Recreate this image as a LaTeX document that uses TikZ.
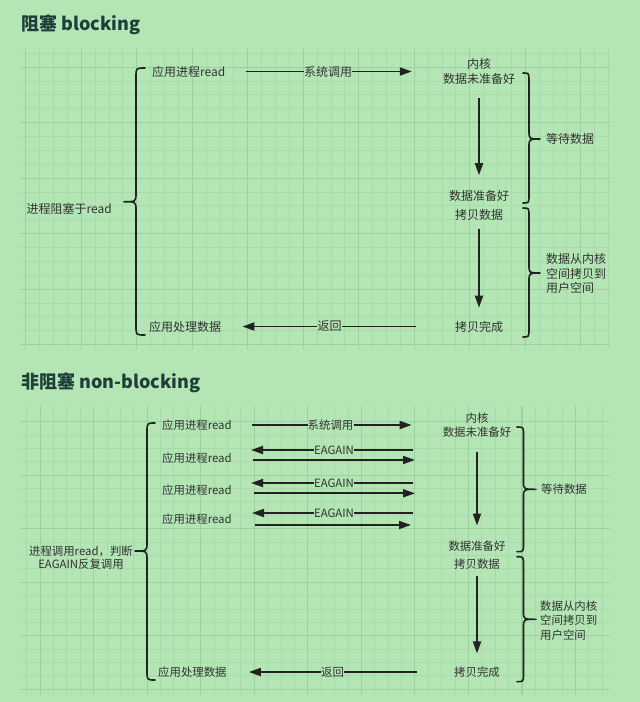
\documentclass[tikz,border=0pt]{standalone}
\usepackage{fontspec}
\setmainfont{Noto Sans CJK SC}
\usetikzlibrary{arrows.meta}
\definecolor{bg}{RGB}{179,229,181}
\definecolor{gminor}{RGB}{168,218,170}
\definecolor{gmajor}{RGB}{157,207,160}
\definecolor{ink}{RGB}{34,34,34}
\definecolor{txtc}{RGB}{51,51,51}
\definecolor{ttl}{RGB}{30,62,56}
\begin{document}
\begin{tikzpicture}[x=1pt,y=-1pt,
  txt/.style={inner sep=0pt, text=txtc, font=\fontsize{12}{15}\selectfont},
  txtb/.style={inner sep=0pt, text=txtc, font=\fontsize{11.4}{14.5}\selectfont},
  ttlstyle/.style={inner sep=0pt, text=ttl, anchor=west, font=\fontsize{18}{20}\selectfont\bfseries},
  ln/.style={draw=ink, line width=1.8pt},
  arr/.style={ln, -{Triangle[length=12pt,width=8pt]}},
  brc/.style={draw=ink, line width=1.6pt, line join=round, line cap=round},
  gmin/.style={draw=gminor, line width=0.9pt},
  gmaj/.style={draw=gmajor, line width=1.1pt}]
\fill[bg] (0,0) rectangle (640,702);
\useasboundingbox (0,0) rectangle (640,702);
% ---------- top grid ----------
\foreach \k in {0,...,42} {\draw[gmin] ({25.8+13.875*\k},48) -- ({25.8+13.875*\k},349);}
\foreach \k in {0,...,21} {\draw[gmin] (20,{53.3+13.875*\k}) -- (610,{53.3+13.875*\k});}
\foreach \k in {0,4,...,40} {\draw[gmaj] ({25.8+13.875*\k},48) -- ({25.8+13.875*\k},349);}
\foreach \k in {1,5,...,21} {\draw[gmaj] (20,{53.3+13.875*\k}) -- (610,{53.3+13.875*\k});}
% ---------- bottom grid ----------
\foreach \k in {0,...,43} {\draw[gmin] ({26.7+13.386*\k},406) -- ({26.7+13.386*\k},695);}
\foreach \k in {0,...,20} {\draw[gmin] (20,{689.3-13.386*\k}) -- (610,{689.3-13.386*\k});}
\foreach \k in {1,5,...,41} {\draw[gmaj] ({26.7+13.386*\k},406) -- ({26.7+13.386*\k},695);}
\foreach \k in {0,4,...,20} {\draw[gmaj] (20,{689.3-13.386*\k}) -- (610,{689.3-13.386*\k});}

% ================= TOP: blocking =================
\node[ttlstyle] (t1) at (21,25) {阻塞 blocking};
\node[txt, anchor=west] (read1) at (152,71.5) {应用进程read};
\node[txt] (sys1) at (328,71.5) {系统调用};
\node[txt, align=center] (kern1) at (479,71.5) {内核\\数据未准备好};
\node[txt] (ready1) at (479,196) {数据准备好};
\node[txt] (copy1) at (479,215) {拷贝数据};
\node[txt] (done1) at (479,326.5) {拷贝完成};
\node[txt] (ret1) at (329.5,326.5) {返回};
\node[txt, anchor=west] (proc1) at (149,326.5) {应用处理数据};
\node[txt, anchor=east] (blk1) at (112,209) {进程阻塞于read};
\node[txt, anchor=west] (wait1) at (546,139) {等待数据};
\node[txt, anchor=west, align=left, font=\fontsize{12}{14.5}\selectfont] (move1) at (546,273.5) {数据从内核\\空间拷贝到\\用户空间};

\draw[ln, shorten <=20pt] (read1) -- (sys1);
\draw[arr, shorten >=31pt] (sys1) -- (kern1);
\draw[arr, shorten <=13pt, shorten >=15pt] (kern1) -- (ready1);
\draw[arr, shorten <=8pt, shorten >=13pt] (copy1) -- (done1);
\draw[ln, shorten <=39pt] (done1) -- (ret1);
\draw[arr, shorten >=21pt] (ret1) -- (proc1);

% braces top
\draw[brc] (145,68) .. controls (136,68) .. (136,77) -- (136,192.7)
  .. controls (136,201.7) .. (124,201.7) .. controls (136,201.7) .. (136,210.7)
  -- (136,326) .. controls (136,335) .. (145,335);
\draw[brc] (523,73) .. controls (529,73) .. (529,81) -- (529,131)
  .. controls (529,139) .. (540,139) .. controls (529,139) .. (529,147)
  -- (529,195) .. controls (529,203) .. (523,203);
\draw[brc] (523,208) .. controls (529,208) .. (529,216) -- (529,265)
  .. controls (529,273) .. (540,273) .. controls (529,273) .. (529,281)
  -- (529,329) .. controls (529,337) .. (523,337);

% ================= BOTTOM: non-blocking =================
\node[ttlstyle] (t2) at (21,383) {非阻塞 non-blocking};
\node[txtb, anchor=west] (r1) at (162,425) {应用进程read};
\node[txtb, anchor=west] (r2) at (162,458) {应用进程read};
\node[txtb, anchor=west] (r3) at (162,490) {应用进程read};
\node[txtb, anchor=west] (r4) at (162,519) {应用进程read};
\node[txtb] (sys2) at (330.5,425) {系统调用};
\node[txtb, align=center] (kern2) at (477,425) {内核\\数据未准备好};
\node[txtb] (e1) at (334,450) {EAGAIN};
\node[txtb] (e2) at (334,483) {EAGAIN};
\node[txtb] (e3) at (334,513) {EAGAIN};
\node[txtb] (ready2) at (477,546) {数据准备好};
\node[txtb] (copy2) at (477,564) {拷贝数据};
\node[txtb] (done2) at (477,672) {拷贝完成};
\node[txtb] (ret2) at (332.5,672) {返回};
\node[txtb, anchor=west] (proc2) at (158,672) {应用处理数据};
\node[txtb, align=center, font=\fontsize{11.4}{13.5}\selectfont] (blk2) at (81,557.5) {进程调用read，判断\\EAGAIN反复调用};
\node[txtb, anchor=west] (wait2) at (541,489.3) {等待数据};
\node[txtb, anchor=west, align=left] (move2) at (540,620.5) {数据从内核\\空间拷贝到\\用户空间};

\coordinate (c1r) at (413,450); \coordinate (c1l) at (251,450);
\coordinate (c2r) at (413,483); \coordinate (c2l) at (251,483);
\coordinate (c3r) at (413,513); \coordinate (c3l) at (252,513);
\coordinate (d1l) at (253,460); \coordinate (d1r) at (415,460);
\coordinate (d2l) at (254,493.3); \coordinate (d2r) at (415,493.3);
\coordinate (d3l) at (255,525); \coordinate (d3r) at (411,525);

\draw[ln, shorten <=20pt] (r1) -- (sys2);
\draw[arr, shorten >=31pt] (sys2) -- (kern2);
\draw[ln] (c1r) -- (e1); \draw[arr] (e1) -- (c1l);
\draw[ln] (c2r) -- (e2); \draw[arr] (e2) -- (c2l);
\draw[ln] (c3r) -- (e3); \draw[arr] (e3) -- (c3l);
\draw[arr] (d1l) -- (d1r);
\draw[arr] (d2l) -- (d2r);
\draw[arr] (d3l) -- (d3r);
\draw[arr, shorten <=14pt, shorten >=15pt] (kern2) -- (ready2);
\draw[arr, shorten <=7pt, shorten >=13pt] (copy2) -- (done2);
\draw[ln, shorten <=37pt] (done2) -- (ret2);
\draw[arr, shorten >=22pt] (ret2) -- (proc2);

% braces bottom
\draw[brc] (155,423) .. controls (147,423) .. (147,432) -- (147,542)
  .. controls (147,551) .. (135,551) .. controls (147,551) .. (147,560)
  -- (147,671) .. controls (147,680) .. (155,680);
\draw[brc] (517,427) .. controls (523.5,427) .. (523.5,435) -- (523.5,481.3)
  .. controls (523.5,489.3) .. (536,489.3) .. controls (523.5,489.3) .. (523.5,497.3)
  -- (523.5,543.7) .. controls (523.5,551.7) .. (517,551.7);
\draw[brc] (517,556.7) .. controls (523.5,556.7) .. (523.5,564.7) -- (523.5,611.3)
  .. controls (523.5,619.3) .. (536,619.3) .. controls (523.5,619.3) .. (523.5,627.3)
  -- (523.5,673.7) .. controls (523.5,681.7) .. (517,681.7);
\end{tikzpicture}
\end{document}
